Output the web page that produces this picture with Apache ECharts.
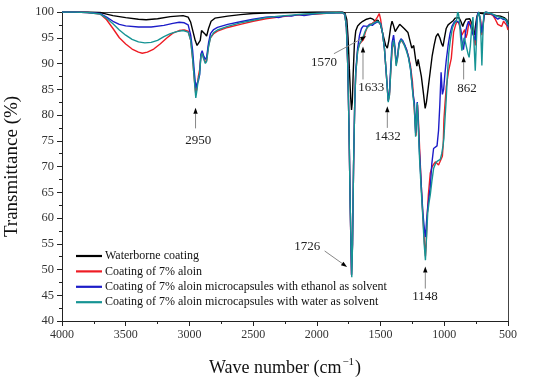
<!DOCTYPE html>
<html><head><meta charset="utf-8">
<script src="https://cdn.jsdelivr.net/npm/echarts@6/dist/echarts.min.js"></script>
<style>html,body{margin:0;padding:0;background:#fff}#c{width:550px;height:380px}</style>
</head><body><div id="c"></div>
<script>
const seriesNames = ['Waterborne coating','Coating of 7% aloin','Coating of 7% aloin microcapsules with ethanol as solvent','Coating of 7% aloin microcapsules with water as solvent'];
const xTicks = [4000,3500,3000,2500,2000,1500,1000,500];

const blackWn = [4000,3900,3800,3700,3650,3600,3500,3400,3340,3250,3150,3050,3010,2990,2970,2955,2940,2925,2915,2905,2895,2880,2865,2850,2830,2800,2700,2600,2500,2400,2200,2000,1800,1780,1765,1755,1745,1735,1728,1722,1715,1705,1695,1680,1660,1640,1610,1580,1560,1540,1520,1500,1480,1460,1447,1435,1420,1410,1400,1385,1370,1350,1335,1315,1300,1285,1270,1255,1240,1225,1215,1205,1195,1180,1165,1150,1140,1125,1110,1095,1080,1065,1050,1035,1020,1010,1000,985,970,950,930,915,900,885,870,855,845,830,815,800,785,775,765,755,745,735,720,700,680,650,620,590,560,530,510,500];
const blackT = [100,100,100,99.9,99.6,99.3,98.9,98.6,98.5,98.7,99.1,99.3,99.0,98.0,96.0,94.5,93.5,93.2,94.5,96.4,96.6,95.8,95.3,96.8,98.2,98.8,99.2,99.5,99.7,99.8,99.9,100,100,99.8,98.5,95,89,83.5,81,82.5,88,94,96.3,97.3,97.8,98.2,98.6,98.8,98.6,98.2,98.4,97.5,95.5,93.5,93.0,94.5,97.2,98.2,97.5,96.2,96.8,97.6,97.4,96.8,96.5,96.0,94.5,93.0,93.5,90.8,89.5,90.8,90.5,87.5,84.5,81.3,82.5,85.5,88.5,91.5,93.5,95.2,95.8,95.0,93.8,93.3,94.8,96.8,97.5,97.9,98.3,98.8,99.1,98.9,98.2,97.2,97.9,98.6,98.4,98.7,97.8,96.2,95.5,97.3,99.0,99.8,100,99.7,99.6,99.6,99.5,99.3,99.2,98.9,98.5,97.6];

const redWn = [4000,3900,3800,3700,3650,3600,3550,3500,3450,3400,3370,3330,3280,3230,3180,3130,3080,3040,3010,2990,2975,2962,2950,2940,2930,2920,2910,2900,2890,2875,2865,2850,2835,2810,2780,2700,2600,2500,2400,2300,2200,2100,2000,1900,1800,1780,1768,1758,1748,1738,1728,1720,1712,1703,1695,1680,1665,1650,1635,1620,1605,1585,1565,1545,1525,1510,1500,1485,1470,1455,1440,1430,1420,1410,1398,1388,1378,1368,1355,1340,1325,1310,1295,1280,1265,1250,1240,1230,1222,1215,1210,1202,1190,1178,1165,1155,1148,1142,1135,1125,1110,1095,1085,1070,1057,1045,1031,1015,1008,1003,995,984,966,945,927,910,900,885,872,862,850,840,830,820,810,800,790,780,770,757,745,735,725,715,705,695,685,675,650,620,600,580,565,550,535,520,510,500];
const redT = [100,100,99.9,99.6,98.5,96.8,95.0,93.8,92.8,92.2,92.0,92.2,92.8,93.8,94.9,95.9,96.4,96.5,96.3,94.5,91.0,87.0,84.0,85.5,87.5,88.8,91.5,92.2,91.2,90.2,90.6,93.5,95.0,95.8,96.3,97.0,97.6,98.2,98.7,99.0,99.3,99.5,99.6,99.8,99.9,99.5,97,90,78,62,49,55,70,82,88,92.5,93.8,94.2,94.6,96.0,97.0,97.6,97.8,98.2,99.0,99.7,98.6,96.0,93.0,88.0,82.8,84.0,88.5,92.5,94.2,93.0,89.8,91.0,93.8,94.6,94.3,93.5,92.6,91.3,89.5,86.5,82.8,79.0,76.0,80.5,82.0,78.5,71.5,65,59,55,52.6,55,60,64.5,68.7,70.0,70.3,70.9,71.0,70.3,70.4,72.0,74.5,79,82,85.5,88.6,91,96.1,97.6,98.2,97.8,96.5,95.5,95.6,96.6,95.0,95.8,97.5,98.2,97.0,96.0,95.5,93.5,98.0,100,99.4,98.5,95.5,97.5,99.6,100,99.7,99.4,98.6,97.6,97.9,97.2,98.2,98.0,97.4,96.5];

const blueWn = [4000,3900,3800,3700,3650,3600,3550,3500,3400,3300,3200,3130,3080,3040,3010,2990,2975,2962,2950,2940,2930,2920,2910,2900,2890,2875,2865,2850,2835,2810,2780,2700,2600,2500,2400,2350,2300,2250,2200,2150,2100,2000,1900,1800,1780,1768,1758,1748,1738,1728,1720,1712,1703,1695,1680,1665,1650,1635,1620,1605,1585,1565,1545,1525,1510,1500,1485,1470,1455,1440,1430,1420,1410,1398,1388,1378,1368,1355,1340,1325,1310,1295,1280,1265,1255,1245,1235,1225,1218,1212,1205,1195,1180,1168,1155,1148,1140,1130,1120,1110,1098,1084,1070,1057,1045,1035,1025,1015,1005,995,985,970,955,940,925,910,900,885,872,862,850,840,830,820,810,800,790,780,770,757,745,735,725,715,705,695,685,675,650,620,600,580,560,540,520,510,500];
const blueT = [100,100,99.9,99.7,99.0,98.2,97.6,97.3,97.1,97.1,97.4,97.8,98.0,97.9,97.5,95.5,92.5,88.5,85.2,86.2,86.6,87.8,91.8,92.5,91.6,90.8,91.2,94.0,95.8,96.6,97.0,97.6,98.1,98.6,99.0,99.1,98.9,99.3,99.2,99.5,99.3,99.7,99.8,99.9,99.5,97,90,78,62,49,55,70,82,88.5,93,95.5,96.8,97.3,97.0,97.2,97.6,97.4,97.8,98.1,98.3,97.8,96,93,88,82.8,84.5,89.5,94,95.5,93.5,90.2,91.2,94,94.8,94.4,93.6,92.6,91.2,89,86.5,84,82.5,76.5,80,82.5,79,73,66,61,57.5,56.3,59,62,64,66,70.5,73.5,73.8,74,77,82,88.3,84,85,88,90.5,93.5,95.8,97.2,97.9,98.3,98.4,98.0,96.8,94.5,92.7,94.5,96.5,97.5,98.2,98.2,97.0,96.0,96.2,94.5,98.5,100,99.4,98.0,96.0,97.8,99.6,100,99.8,99.5,99.0,98.6,98.9,98.6,98.5,98.0,97.2];

const tealWn = [4000,3900,3800,3700,3650,3600,3550,3500,3450,3400,3350,3300,3250,3200,3150,3100,3050,3010,2990,2975,2962,2950,2940,2930,2920,2910,2900,2890,2875,2865,2850,2835,2810,2780,2700,2600,2500,2400,2300,2200,2100,2000,1900,1800,1780,1768,1758,1748,1738,1726,1720,1712,1703,1695,1680,1665,1650,1635,1620,1605,1585,1565,1545,1525,1510,1500,1485,1470,1455,1440,1430,1420,1410,1398,1388,1378,1368,1355,1340,1325,1310,1295,1280,1265,1255,1245,1235,1225,1218,1212,1205,1195,1180,1168,1158,1148,1140,1130,1120,1110,1098,1084,1070,1057,1045,1031,1020,1010,1003,995,985,975,965,950,935,920,905,895,888,880,872,862,855,845,835,825,815,805,795,785,775,765,757,750,740,730,720,712,705,698,690,680,650,620,600,570,540,520,510,500];
const tealT = [100,100,99.9,99.6,98.8,97.7,96.5,95.5,94.7,94.2,94.0,94.1,94.5,95.2,95.8,96.2,96.4,96.1,94.5,91,87,83.3,85,87,88,91.3,92,91,90,90.4,93.2,95,96,96.5,97.2,97.9,98.4,98.9,99.2,99.4,99.6,99.7,99.8,99.9,99.5,97,90,78,62,48.5,55,70,82,88,92.3,93.8,94.5,95.3,96.3,97.0,97.4,97.7,98,98.2,98.3,97.7,96,93,88,82.5,83.8,88.5,92.8,94.5,93,89.5,90.8,93.6,94.6,94.2,93.3,92.3,91.0,88.8,86.3,83.6,81.5,75.8,79.5,82.3,78.5,72,65,60,55,51.8,56,61,63,64.5,67,69.6,70.5,71,71.2,71.4,72.5,74,75.5,79,83,88,92,95,97,97.8,98.2,100,99.5,98.0,95.0,92.5,93.5,95,94.2,94.0,92,91.2,93.5,97,99,93,88.6,93,99,100,99,95,89.6,95,99.5,100,99.8,99.6,99.3,99.0,98.8,98.6,98.2,97.4];

const annotations = [
  {text:'2950', tip:[2952,81.4], tail:[2952,77.4], label:[2930,75.0]},
  {text:'1570', tip:[1612,95.3], tail:[1866,91.9], label:[1944,90.1]},
  {text:'1633', tip:[1638,93.3], tail:[1638,86.9], label:[1573,85.3]},
  {text:'1432', tip:[1447,81.7], tail:[1447,77.5], label:[1443,75.9]},
  {text:'862',  tip:[848,91.4],  tail:[848,86.9],  label:[822,85.2]},
  {text:'1726', tip:[1763,50.5], tail:[1939,53.6], label:[2075,54.5]},
  {text:'1148', tip:[1149,50.6], tail:[1149,46.3], label:[1151,44.8]}
];

const colors = ['#000000','#ee1c24','#1c1cc8','#169494'];
const serif = '"Liberation Serif","DejaVu Serif",serif';
const pairs = [[blackWn,blackT],[redWn,redT],[blueWn,blueT],[tealWn,tealT]];

const chart = echarts.init(document.getElementById('c'), null, {renderer:'canvas'});
const option = {
  animation:false,
  backgroundColor:'#fff',
  grid:{left:62,right:42,top:12,bottom:59,containLabel:false,outerBoundsMode:'none'},
  legend:{
    orient:'vertical', left:71, top:245, itemWidth:26, itemHeight:2.2, itemGap:3.4,
    icon:'rect',
    textStyle:{fontFamily:serif, fontSize:12, color:'#111', padding:[0,0,0,-2]},
    data:seriesNames
  },
  xAxis:[{
    type:'value', inverse:true, min:500, max:4000, interval:500,
    name:'{a|Wave number (cm}{s|−1}{a|)}', nameLocation:'middle', nameGap:36,
    nameTextStyle:{rich:{a:{fontFamily:serif,fontSize:18,color:'#111',lineHeight:20,verticalAlign:'bottom'},s:{fontFamily:serif,fontSize:11,color:'#111',verticalAlign:'top',lineHeight:12,padding:[0,1,0,1]}}},
    axisLine:{show:true,lineStyle:{color:'#222',width:1}},
    axisTick:{show:true,length:5,inside:false,lineStyle:{color:'#222'}},
    minorTick:{show:true,splitNumber:2,length:3,lineStyle:{color:'#222'}},
    axisLabel:{fontFamily:serif,fontSize:12,color:'#333',margin:8,formatter:v=>xTicks.includes(v)?String(v):''},
    splitLine:{show:false}
  },{
    type:'value', inverse:true, min:500, max:4000, position:'top',
    axisLine:{show:true,lineStyle:{color:'#444',width:1}}, axisTick:{show:false}, axisLabel:{show:false}, splitLine:{show:false}
  }],
  yAxis:[{
    type:'value', min:40, max:100, interval:5,
    name:'Transmittance (%)', nameLocation:'middle', nameGap:40,
    nameTextStyle:{fontFamily:serif,fontSize:19,color:'#111'},
    axisLine:{show:true,lineStyle:{color:'#222',width:1}},
    axisTick:{show:true,length:5,lineStyle:{color:'#222'}},
    minorTick:{show:true,splitNumber:2,length:3,lineStyle:{color:'#222'}},
    axisLabel:{fontFamily:serif,fontSize:12.5,color:'#333',margin:8},
    splitLine:{show:false}
  },{
    type:'value', min:40, max:100, position:'right',
    axisLine:{show:true,lineStyle:{color:'#444',width:1}}, axisTick:{show:false}, axisLabel:{show:false}, splitLine:{show:false}
  }],
  series: pairs.map((p,i)=>({
    name:seriesNames[i], type:'line', symbol:'none', showSymbol:false, z:2+i,
    lineStyle:{width:1.4,color:colors[i]}, itemStyle:{color:colors[i]},
    data:p[0].map((w,j)=>[w,p[1][j]])
  }))
};
chart.setOption(option);

function px(pt){return chart.convertToPixel({gridIndex:0}, pt);}
const g = [];
annotations.forEach(a=>{
  const t = px(a.tip), s = px(a.tail), l = px(a.label);
  const dx = t[0]-s[0], dy = t[1]-s[1], len = Math.hypot(dx,dy) || 1;
  const ux = dx/len, uy = dy/len, nx = -uy, ny = ux;
  const hl = 6, hw = 2.2;
  const bx = t[0]-ux*hl, by = t[1]-uy*hl;
  g.push({type:'line', shape:{x1:s[0],y1:s[1],x2:bx,y2:by}, style:{stroke:'#888',lineWidth:1}, z:100});
  g.push({type:'polygon', shape:{points:[[t[0],t[1]],[bx+nx*hw,by+ny*hw],[bx-nx*hw,by-ny*hw]]}, style:{fill:'#000'}, z:101});
  g.push({type:'text', x:l[0], y:l[1], style:{text:a.text, align:'center', verticalAlign:'middle', font:'13px '+serif, fill:'#222'}, z:102});
});
chart.setOption({graphic:g});
</script></body></html>
